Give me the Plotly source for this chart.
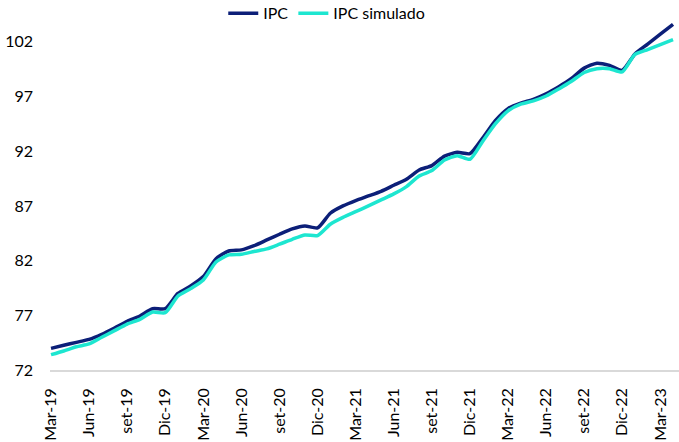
import plotly.graph_objects as go

months = ["Mar-19","Abr-19","May-19","Jun-19","Jul-19","Ago-19","set-19","Oct-19","Nov-19","Dic-19",
          "Ene-20","Feb-20","Mar-20","Abr-20","May-20","Jun-20","Jul-20","Ago-20","set-20","Oct-20","Nov-20","Dic-20",
          "Ene-21","Feb-21","Mar-21","Abr-21","May-21","Jun-21","Jul-21","Ago-21","set-21","Oct-21","Nov-21","Dic-21",
          "Ene-22","Feb-22","Mar-22","Abr-22","May-22","Jun-22","Jul-22","Ago-22","set-22","Oct-22","Nov-22","Dic-22",
          "Ene-23","Feb-23","Mar-23","Abr-23"]

ipc = [73.98, 74.26, 74.53, 74.80, 75.26, 75.84, 76.45, 76.94, 77.60, 77.61,
       79.00, 79.68, 80.54, 82.18, 82.88, 82.98, 83.37, 83.89, 84.41, 84.90, 85.17, 84.99,
       86.33, 87.00, 87.49, 87.91, 88.34, 88.89, 89.44, 90.29, 90.69, 91.55, 91.90, 91.78,
       93.20, 94.80, 95.90, 96.40, 96.75, 97.25, 97.90, 98.65, 99.60, 100.05, 99.85, 99.40,
       100.90, 101.80, 102.70, 103.60]

ipc_sim = [73.40, 73.74, 74.13, 74.38, 74.99, 75.60, 76.20, 76.63, 77.30, 77.24,
           78.77, 79.44, 80.23, 81.88, 82.52, 82.58, 82.84, 83.07, 83.50, 83.95, 84.35, 84.29,
           85.33, 85.96, 86.48, 87.00, 87.55, 88.10, 88.77, 89.74, 90.23, 91.20, 91.60, 91.27,
           92.90, 94.50, 95.70, 96.30, 96.60, 97.05, 97.70, 98.40, 99.20, 99.55, 99.55, 99.25,
           100.85, 101.30, 101.75, 102.20]

tick_idx = list(range(0, len(months), 3))
tick_text = [months[i] for i in tick_idx]
x = list(range(len(months)))

fig = go.Figure()
fig.add_trace(go.Scatter(x=x, y=ipc, mode="lines", name="IPC",
                         line=dict(color="#0c1f78", width=3.5, shape="spline", smoothing=0.6)))
fig.add_trace(go.Scatter(x=x, y=ipc_sim, mode="lines", name="IPC simulado",
                         line=dict(color="#1de6d0", width=3.5, shape="spline", smoothing=0.6)))

fig.update_layout(
    width=679, height=442,
    margin=dict(l=50, r=0, t=20, b=72, autoexpand=False),
    paper_bgcolor="white", plot_bgcolor="white",
    font=dict(family="Lato, sans-serif", size=16, color="#000000"),
    showlegend=True,
    legend=dict(orientation="h", x=0.44, xanchor="center", yref="container", y=0.97, yanchor="middle",
                font=dict(size=16), bgcolor="rgba(0,0,0,0)", itemwidth=30, tracegroupgap=0),
    xaxis=dict(range=[-0.08, 49.47], tickmode="array", tickvals=tick_idx, ticktext=tick_text,
               tickangle=-90, showgrid=False, zeroline=False, showline=True, automargin=False,
               linecolor="#d9d9d9", linewidth=1.5, ticks="", ticklabelstandoff=10),
    yaxis=dict(range=[72, 104], tickmode="array", tickvals=[72, 77, 82, 87, 92, 97, 102],
               showgrid=False, zeroline=False, showline=False, ticks="", automargin=False,
               ticklabelstandoff=16),
)

fig.write_html("out.html", config={"displayModeBar": False},
               post_script="document.body.style.margin='0';document.body.style.padding='0';")
